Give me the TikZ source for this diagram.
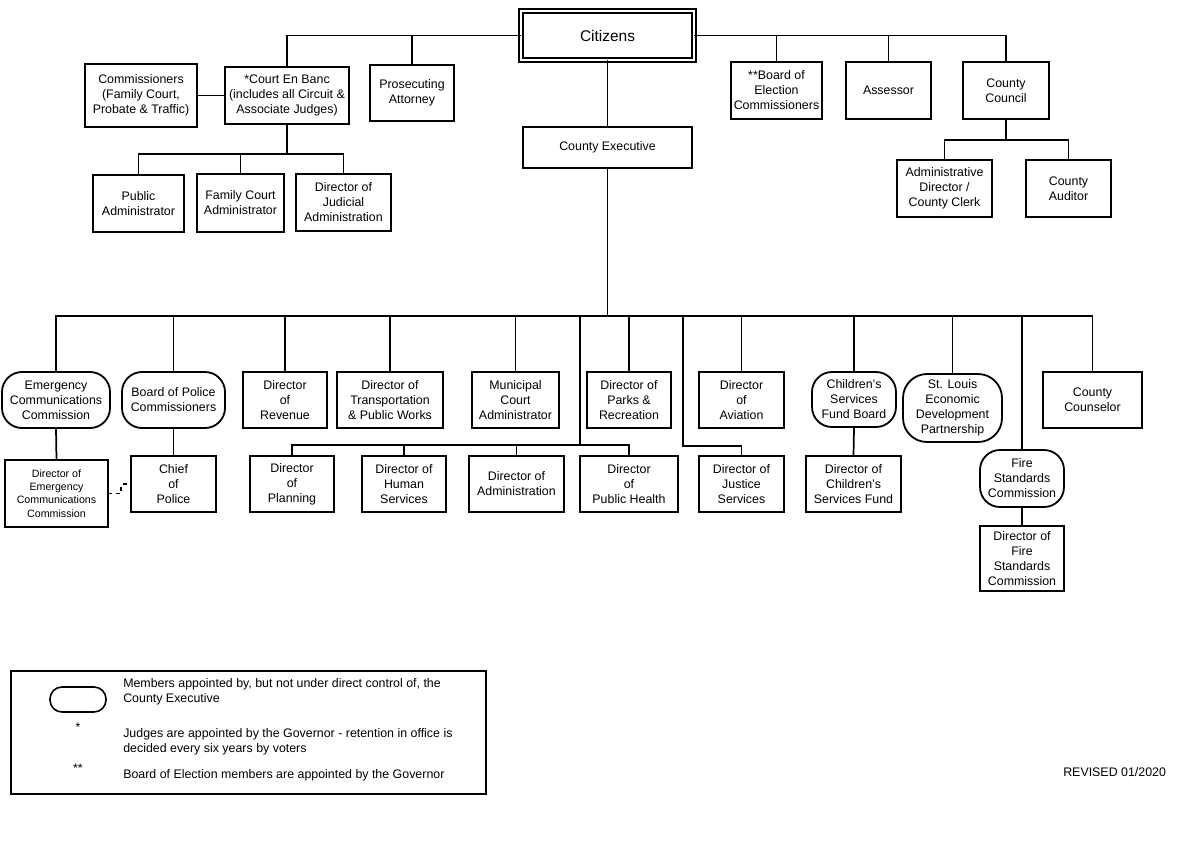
\documentclass[tikz,border=0pt]{standalone}
\usepackage{fontspec}
\setmainfont{Liberation Sans}
\newcommand\bx[7][]{%
  \node[box,#1,minimum width={(#5-#3)*0.75pt},minimum height={(#6-#4)*0.75pt}] (#2) at ({(#3+#5)/2},{(#4+#6)/2}) {#7};}
\tikzset{
  box/.style={draw, line width=1.35pt, inner sep=0pt, outer sep=0pt, align=center,
    font=\fontsize{9.3}{11.25}\selectfont},
  pill/.style={rounded corners=15pt},
  conn/.style={line width=1.3pt},
  legtext/.style={anchor=base west, inner sep=0pt, font=\fontsize{9.3}{11.25}\selectfont}
}
\begin{document}
\begin{tikzpicture}[x=0.75pt,y=-0.75pt]
\useasboundingbox (0,0) rectangle (1181,850);
% top level
\bx[double, double distance=1.4pt, line width=1.4pt, font=\fontsize{11.6}{14}\selectfont]{cit}{520.8}{10.8}{694.2}{60.2}{Citizens}
\bx{com}{85}{64}{197}{127}{Commissioners\\(Family Court,\\Probate \& Traffic)}
\bx{ceb}{225}{67}{349}{124}{*Court En Banc\\(includes all Circuit \&\\Associate Judges)}
\bx{pa}{370}{65}{454}{121}{Prosecuting\\Attorney}
\bx{pub}{93}{175}{184}{232}{Public\\Administrator}
\bx{fca}{197}{174}{284}{232}{Family Court\\Administrator}
\bx{dja}{296}{174}{391}{231}{Director of\\Judicial\\Administration}
\bx{boe}{731}{62}{822}{119}{**Board of\\Election\\Commissioners}
\bx{ass}{846}{62}{931}{119}{Assessor}
\bx{cc}{963}{62}{1049}{119}{County\\Council}
\bx{aad}{897}{160}{992}{217}{Administrative\\Director /\\County Clerk}
\bx{aud}{1026}{160}{1111}{217}{County\\Auditor}
\bx{ce}{523}{127}{692}{168}{County Executive}
% second row
\bx[pill]{ecc}{2}{372}{110}{428}{Emergency\\Communications\\Commission}
\bx[pill]{bpc}{122}{372}{225}{428}{Board of Police\\Commissioners}
\bx{rev}{243}{372}{327}{428}{Director\\of\\Revenue}
\bx{tpw}{337}{372}{443}{428}{Director of\\Transportation\\\& Public Works}
\bx{mca}{472}{372}{559}{428}{Municipal\\Court\\Administrator}
\bx{par}{587}{372}{671}{428}{Director of\\Parks \&\\Recreation}
\bx{avi}{699}{372}{784}{428}{Director\\of\\Aviation}
\bx[pill]{csfb}{812}{372}{896}{427}{Children’s\\Services\\Fund Board}
\bx[rounded corners=18pt]{sledp}{903}{374}{1002}{442}{St. Louis\\Economic\\Development\\Partnership}
\bx{couns}{1043}{372}{1142}{428}{County\\Counselor}
% third row
\bx[font=\fontsize{8}{10}\selectfont]{dec}{5}{460}{108}{527}{Director of\\Emergency\\Communications\\Commission}
\bx{chief}{131}{456}{216}{512}{Chief\\of\\Police}
\bx{plan}{250}{456}{334}{512}{Director\\of\\Planning}
\bx{hum}{362}{456}{446}{512}{Director of\\Human\\Services}
\bx{adm}{469}{456}{564}{512}{Director of\\Administration}
\bx{ph}{580}{456}{678}{512}{Director\\of\\Public Health}
\bx{just}{699}{456}{784}{512}{Director of\\Justice\\Services}
\bx{dcsf}{806}{456}{901}{512}{Director of\\Children’s\\Services Fund}
\bx[pill]{fsc}{980}{450}{1064}{507}{Fire\\Standards\\Commission}
\bx{dfsc}{980}{526}{1064}{591}{Director of\\Fire\\Standards\\Commission}
% connectors top
\draw[conn] (cit.west) -| (ceb.north);
\draw[conn] (pa.north) -- (pa.north |- cit.west);
\draw[conn] (cit.east) -| (cc.north);
\draw[conn] (boe.north) -- (boe.north |- cit.east);
\draw[conn] (ass.north) -- (ass.north |- cit.east);
\draw[conn] (com.east) -- (ceb.west);
\coordinate (j1) at (287,154);
\draw[conn] (ceb.south) -- (j1);
\draw[conn] (pub.north) |- (j1) -| (dja.north);
\draw[conn] (fca.north) -- (fca.north |- j1);
\coordinate (j2) at (1006,140);
\draw[conn] (cc.south) -- (j2);
\draw[conn] (aad.north) |- (j2) -| (aud.north);
\draw[conn] (cit.south) -- (cit.south |- ce.north);
% main bus
\coordinate (bus) at (607.5,316);
\draw[conn] (ce.south) -- (bus);
\draw[conn] (ecc.north) |- (bus) -| (couns.north);
\foreach \n in {bpc,rev,tpw,mca,par,avi,csfb,sledp,fsc}
  \draw[conn] (\n.north) -- (\n.north |- bus);
\coordinate (lb) at (580,445);
\draw[conn] (lb |- bus) -- (lb);
\draw[conn] (plan.north) |- (lb) -| (ph.north);
\draw[conn] (hum.north) -- (hum.north |- lb);
\draw[conn] (adm.north) -- (adm.north |- lb);
\coordinate (jb) at (683,446);
\draw[conn] (jb |- bus) -- (jb) -| (just.north);
\draw[conn] (ecc.south) -- (dec.north);
\draw[conn] (bpc.south) -- (chief.north);
\draw[conn] (csfb.south) -- (dcsf.north);
\draw[conn] (fsc.south) -- (dfsc.north);
\draw[conn, dash pattern=on 3pt off 3pt] (dec.east) -- ++(13,0) |- (chief.west);
% legend
\bx[line width=2pt]{leg}{11}{671}{486}{794}{}
\bx[rounded corners=9pt, line width=1.2pt]{legshape}{50}{687}{106}{712}{}
\node[legtext] (l1) at (123,687.5) {Members appointed by, but not under direct control of, the};
\node[legtext] (l2) at (123,702.5) {County Executive};
\node[legtext, anchor=base] (s1) at (78,731) {*};
\node[legtext] (l3) at (123,737) {Judges are appointed by the Governor - retention in office is};
\node[legtext] (l4) at (123,752) {decided every six years by voters};
\node[legtext, anchor=base] (s2) at (78,772) {**};
\node[legtext] (l5) at (123,778) {Board of Election members are appointed by the Governor};
\node[legtext] (rev2020) at (1063,776.5) {REVISED 01/2020};
\end{tikzpicture}
\end{document}
